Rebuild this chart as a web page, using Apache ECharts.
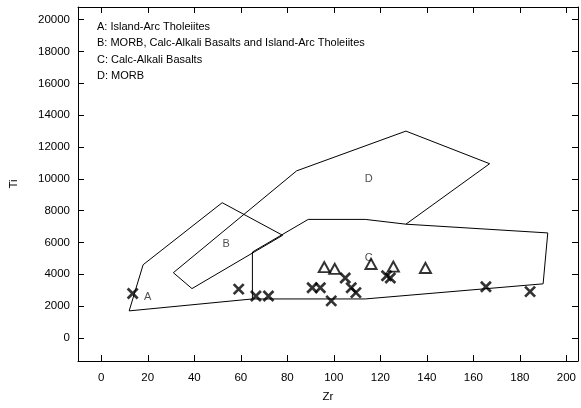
<!DOCTYPE html>
<html>
<head>
<meta charset="utf-8">
<script src="https://cdn.jsdelivr.net/npm/echarts@6/dist/echarts.min.js"></script>
<style>
html, body { margin: 0; padding: 0; background: #fff; }
#chart { width: 581px; height: 408px; }
</style>
</head>
<body>
<div id="chart"></div>
<script>
// Ti-Zr 判别图 (Pearce & Cann)
var xTicks = [0, 20, 40, 60, 80, 100, 120, 140, 160, 180, 200];
var yTicks = [0, 2000, 4000, 6000, 8000, 10000, 12000, 14000, 16000, 18000, 20000];

// field boundaries [Zr, Ti]
var lineAB = [[12, 1700], [18, 4600], [52, 8500], [78, 6450]];
var lineB = [[78, 6450], [39, 3100], [31, 4100]];
var lineD = [[31, 4100], [84, 10500], [131, 13000], [167, 10950], [131, 7150]];
var lineC = [[65, 5400], [89, 7450], [113.5, 7450], [131, 7150], [192, 6600], [190, 3400], [113.5, 2450], [65, 2450], [65, 5400]];
var lineBase = [[12, 1700], [65, 2450]];

var fieldLabels = [['A', 20, 2560], ['B', 53.7, 5920], ['C', 115, 5020], ['D', 115, 10010]];
var legendLines = [
  'A: Island-Arc Tholeiites',
  'B: MORB, Calc-Alkali Basalts and Island-Arc Tholeiites',
  'C: Calc-Alkali Basalts',
  'D: MORB'
];

// samples
var crossPts = [
  [13.5, 2790], [59.1, 3070], [66.5, 2640], [71.9, 2640], [90.7, 3150], [94.2, 3150],
  [98.9, 2330], [104.9, 3770], [107.5, 3150], [109.5, 2850], [122.7, 3910], [124.3, 3770],
  [165.4, 3220], [184.4, 2910]
];
var trianglePts = [[95.9, 4450], [100.4, 4340], [116.0, 4650], [125.6, 4480], [139.4, 4400]];

var font = '"Liberation Sans", Arial, sans-serif';
var black = { color: '#000', width: 1 };

function boxAxis(pos, min, max, ticks, extra) {
  var a = {
    type: 'value', position: pos, min: min, max: max,
    axisLine: { show: true, onZero: false, lineStyle: black },
    axisTick: { show: true, inside: true, length: 6, customValues: ticks, lineStyle: black },
    axisLabel: { show: false, customValues: ticks },
    splitLine: { show: false }
  };
  return Object.assign(a, extra || {});
}

function boundary(d) {
  return {
    type: 'line', data: d, symbol: 'none', silent: true,
    lineStyle: { color: '#000', width: 1 }, z: 2
  };
}

function plain(v) { return String(v); }

var chart = echarts.init(document.getElementById('chart'));
chart.setOption({
  animation: false,
  grid: { left: 75, right: 3, top: 7, bottom: 39 },
  graphic: [{
    type: 'text', left: 97, top: 19,
    style: { text: legendLines.join('\n'), font: '11px ' + font, lineHeight: 16.3, fill: '#000' }
  }],
  xAxis: [
    boxAxis('bottom', -10, 205, xTicks, {
      name: 'Zr', nameLocation: 'middle', nameGap: 30,
      nameTextStyle: { fontFamily: font, fontSize: 11.5, color: '#000' },
      axisLabel: { show: true, customValues: xTicks, formatter: plain, margin: 11, fontFamily: font, fontSize: 11.5, color: '#000' }
    }),
    boxAxis('top', -10, 205, xTicks)
  ],
  yAxis: [
    boxAxis('left', -1450, 20800, yTicks, {
      name: 'Ti', nameLocation: 'middle', nameGap: 58,
      nameTextStyle: { fontFamily: font, fontSize: 11.5, color: '#000' },
      axisLabel: { show: true, customValues: yTicks, formatter: plain, margin: 8, fontFamily: font, fontSize: 11.5, color: '#000' }
    }),
    boxAxis('right', -1450, 20800, yTicks)
  ],
  series: [
    boundary(lineAB), boundary(lineB), boundary(lineD), boundary(lineC), boundary(lineBase),
    {
      type: 'scatter', symbolSize: 0, silent: true,
      data: fieldLabels.map(function (l) { return { name: l[0], value: [l[1], l[2]] }; }),
      label: { show: true, position: 'inside', formatter: '{b}', fontFamily: font, fontSize: 11, color: '#222' }
    },
    {
      type: 'scatter', data: crossPts, symbol: 'path://M0,0L10,10M10,0L0,10', symbolSize: 10,
      itemStyle: { color: 'none', borderColor: '#000', borderWidth: 2.7 }, z: 3
    },
    {
      type: 'scatter', data: trianglePts, symbol: 'triangle', symbolSize: [11, 10],
      itemStyle: { color: 'rgba(255,255,255,0)', borderColor: '#000', borderWidth: 2 }, z: 3
    }
  ]
});
</script>
</body>
</html>
